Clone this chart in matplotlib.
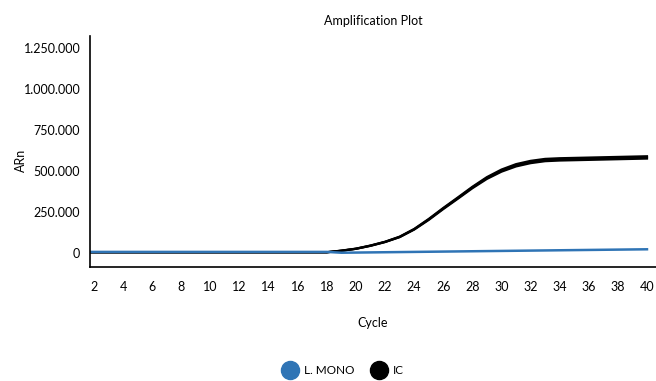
import matplotlib
matplotlib.use("Agg")
import matplotlib.pyplot as plt
from matplotlib.ticker import FuncFormatter
from matplotlib.lines import Line2D

plt.rcParams['font.family'] = ['Lato', 'DejaVu Sans']

# cycles 1..40
cycles = list(range(1, 41))

# IC wells (black)
ic_1 = [5000] * 18 + [14000, 26000, 44000, 67000, 97000, 143000, 202000, 268000, 331000, 395000,
                      452000, 496000, 528000, 548000, 560000, 564000, 566000, 568000, 570000, 572000,
                      574000, 576000]
ic_2 = [5000] * 18 + [14000, 26000, 45000, 68000, 98000, 145000, 205000, 272000, 335000, 400000,
                      458000, 502000, 535000, 555000, 567000, 571000, 573000, 575000, 577000, 579000,
                      581000, 583000]
ic_3 = [5000] * 18 + [15000, 27000, 46000, 69000, 100000, 147000, 208000, 275000, 339000, 404000,
                      463000, 509000, 542000, 562000, 574000, 578000, 580000, 582000, 584000, 586000,
                      588000, 590000]

# L. MONO well (blue)
mono = [7000] * 18 + [2000, 3000, 4000, 5000, 6000, 7000, 8000, 9000, 10000, 11000,
                      12000, 13000, 14000, 15000, 16000, 17000, 18000, 19000, 20000, 21000,
                      22000, 23000]

fig = plt.figure(figsize=(6.56, 3.81), dpi=100)
ax = fig.add_axes([0.1372, 0.2992, 0.8628, 0.6063])

for ic in [ic_1, ic_2, ic_3]:
    ax.plot(cycles, ic, color='black', linewidth=1.6)
ax.plot(cycles, mono, color='#2f74b5', linewidth=1.8)

ax.set_xlim(1.72, 40.62)
ax.set_ylim(-85000, 1323000)
ax.set_xticks(range(2, 41, 2))
ax.set_yticks([0, 250000, 500000, 750000, 1000000, 1250000])
ax.yaxis.set_major_formatter(FuncFormatter(lambda v, p: f"{int(v):,}".replace(',', '.')))

ax.spines['top'].set_visible(False)
ax.spines['right'].set_visible(False)
ax.spines['left'].set_linewidth(1.2)
ax.spines['bottom'].set_linewidth(1.2)
ax.tick_params(axis='both', length=0, labelsize=9)
ax.tick_params(axis='x', pad=10)
ax.tick_params(axis='y', pad=7)

ax.set_title("Amplification Plot", fontsize=9, pad=8)
ax.set_xlabel("Cycle", fontsize=9, labelpad=17)
ax.set_ylabel("ARn", fontsize=9)
ax.yaxis.set_label_coords(-0.111, 0.46)

handles = [
    Line2D([], [], marker='o', linestyle='', markersize=13, color='#2f74b5', label='L. MONO'),
    Line2D([], [], marker='o', linestyle='', markersize=13, color='black', label='IC'),
]
fig.legend(handles=handles, loc='center', bbox_to_anchor=(0.52, 0.028), ncol=2, frameon=False,
           fontsize=8.5, handletextpad=0.2, columnspacing=1.1)

fig.savefig("out.png", dpi=100)
